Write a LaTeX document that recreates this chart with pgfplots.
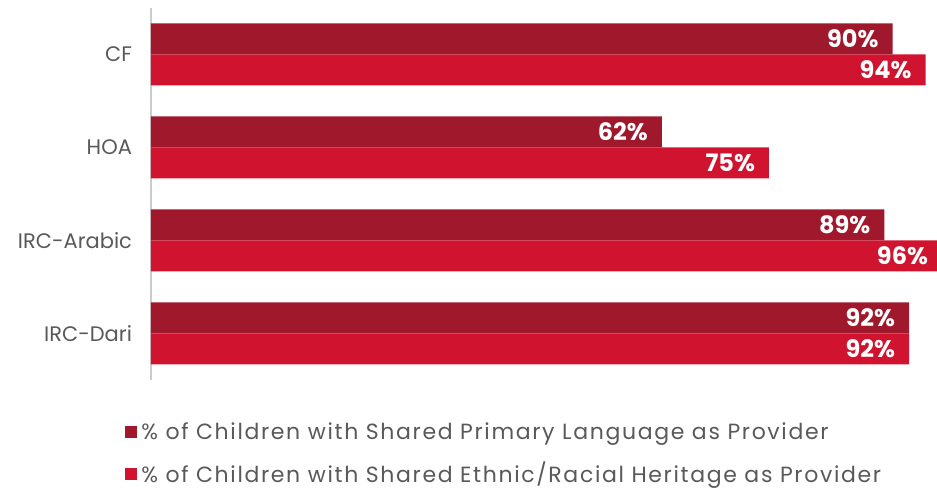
\documentclass[border=0pt]{standalone}
\usepackage{pgfplots}
\pgfplotsset{compat=1.18}
\usepackage{fontspec}
\setmainfont{Poppins}
\definecolor{darkred}{HTML}{A0182C}
\definecolor{lightred}{HTML}{D01430}
\definecolor{txtgray}{HTML}{595959}
\begin{document}
\begin{tikzpicture}
\useasboundingbox (-75.5pt,-55.5pt) rectangle (393pt,190pt);
\begin{axis}[
  scale only axis,
  width=395.5pt, height=186pt,
  xmin=0, xmax=96,
  ymin=-0.5, ymax=3.5,
  xbar, bar width=15.5pt,
  axis x line=none,
  axis y line*=left,
  y axis line style={draw=black!20, line width=0.8pt},
  ytick={0,1,2,3},
  yticklabels={IRC-Dari,IRC-Arabic,HOA,CF},
  major tick length=0pt,
  /pgf/number format/assume math mode=true,
  yticklabel style={font=\fontsize{10.5}{12}\selectfont, text=txtgray, xshift=-6pt},
  nodes near coords={\pgfmathprintnumber{\pgfplotspointmeta}\%},
  every node near coord/.append style={anchor=east, xshift=-3.5pt, font=\bfseries\fontsize{12}{14}\selectfont, text=white},
  legend style={at={(axis description cs:0,0)}, anchor=north west, xshift=-16pt, yshift=-17pt, draw=none, fill=none,
    font=\fontsize{11}{13}\selectfont\addfontfeature{LetterSpace=7.5}, text=txtgray, row sep=6pt, legend cell align=left},
  legend image code/.code={\fill[#1] (0pt,-3pt) rectangle (6pt,3pt);},
]
\addplot[fill=darkred, draw=none, bar shift=7.75pt] coordinates {(92,0) (89,1) (62,2) (90,3)};
\addplot[fill=lightred, draw=none, bar shift=-7.75pt] coordinates {(92,0) (96,1) (75,2) (94,3)};
\legend{\% of Children with Shared Primary Language as Provider, \% of Children with Shared Ethnic/Racial Heritage as Provider}
\end{axis}
\end{tikzpicture}
\end{document}
